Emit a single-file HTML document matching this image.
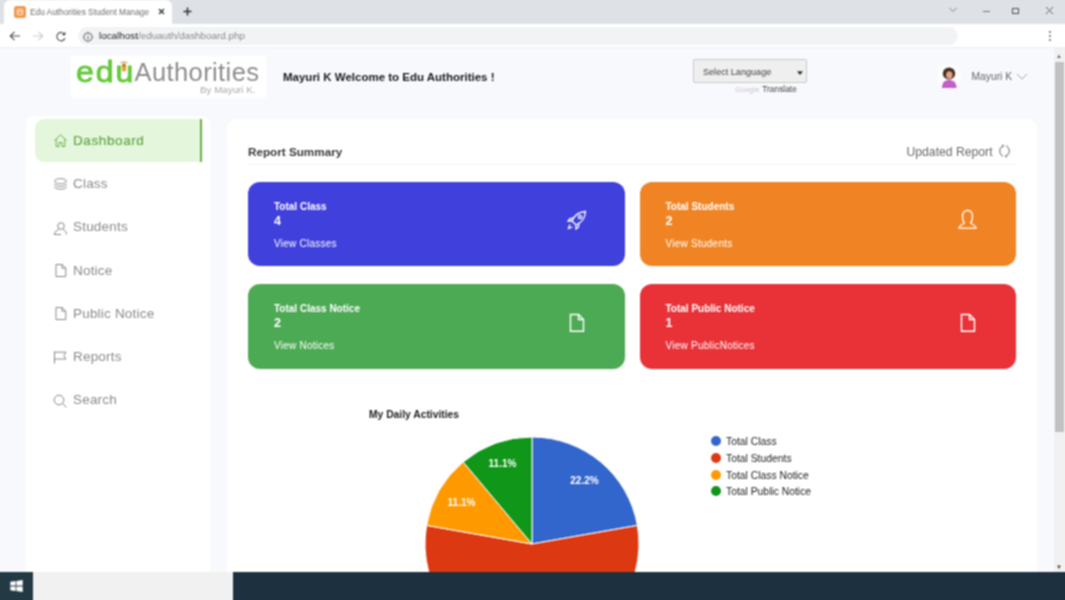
<!DOCTYPE html>
<html><head><meta charset="utf-8">
<style>
*{box-sizing:border-box;margin:0;padding:0}
html,body{width:1065px;height:600px;overflow:hidden;background:#f8f9fd;font-family:"Liberation Sans",sans-serif;}
.abs{position:absolute}
#tabbar{left:-8px;top:-8px;width:1081px;height:32px;background:#dee1e6}
#tab{left:3.500px;top:0;width:168.500px;height:25px;background:#fff;border-radius:6px 6px 0 0}
#toolbar{left:-8px;top:24px;width:1081px;height:24px;background:#fff;border-bottom:1px solid #eeeff2}
#url{left:78px;top:27px;width:880px;height:18px;border-radius:9px;background:#f1f3f4}
.t{position:absolute;white-space:nowrap;line-height:1}
#page{left:-8px;top:48px;width:1062px;height:524px;background:#f8f9fd}
#logo{left:71px;top:56px;width:195px;height:42px;background:#fff}
#side{left:26px;top:116px;width:184px;height:470px;background:#fff;border-radius:8px}
#dash{left:35px;top:118.500px;width:167px;height:43.500px;background:#e4f6db;border-radius:9px 0 0 9px;border-right:2px solid #6ab04c}
.nav{position:absolute;left:73px;font-size:13.5px;color:#8a8a8a;letter-spacing:.2px;white-space:nowrap;line-height:1}
#main{left:226.500px;top:118.500px;width:810.500px;height:470px;background:#fff;border-radius:10px}
.card{position:absolute;width:376.700px;height:84.500px;border-radius:12px;color:#fff}
.card .a{position:absolute;left:26px;top:20px;font-size:10px;letter-spacing:0;font-weight:bold;white-space:nowrap;line-height:1}
.card .b{position:absolute;left:26px;top:33px;font-size:12.500px;font-weight:bold;line-height:1}
.card .c{position:absolute;left:26px;top:56.900px;font-size:10px;letter-spacing:.25px;white-space:nowrap;line-height:1}
#task{left:-8px;top:572px;width:1081px;height:36px;background:#1d3040}
#search{left:33px;top:572px;width:200px;height:36px;background:#f1f1f1}
#start{left:-8px;top:572px;width:41px;height:36px;background:#233a45}
#sb{left:1054px;top:48px;width:19px;height:524px;background:#f1f1f1}
#thumb{left:1054.500px;top:62px;width:9px;height:370px;background:#c1c1c1}
#wrap{position:absolute;left:0;top:0;width:1065px;height:600px;filter:url(#bl)}
</style></head><body>
<svg width="0" height="0" style="position:absolute"><filter id="bl" x="0" y="0" width="100%" height="100%" color-interpolation-filters="sRGB"><feConvolveMatrix order="3" kernelMatrix="3 5 3 5 8 5 3 5 3" divisor="40" edgeMode="duplicate" preserveAlpha="true"/></filter></svg>
<div id="wrap">
<div class="abs" id="tabbar"></div>
<div class="abs" id="tab"></div>
<div class="abs" style="left:14px;top:6px;width:11.500px;height:11.500px;border-radius:2.500px;background:#f29a50"></div>
<div class="abs" style="left:16.500px;top:8.500px;width:6.500px;height:6.500px;border:1px solid #fde6cf;border-radius:1px"></div><div class="abs" style="left:17px;top:11.300px;width:5.500px;height:1px;background:#fde6cf"></div>
<div class="t" style="left:30px;top:8px;font-size:8.300px;color:#6e6e6e">Edu Authorities Student Manage</div>
<svg class="abs" style="left:157.500px;top:8px" width="7" height="7" viewBox="0 0 7 7" fill="none" stroke="#333" stroke-width="1.300"><path d="M1 1 L6 6 M6 1 L1 6"/></svg>
<svg class="abs" style="left:182.500px;top:7px" width="9" height="9" viewBox="0 0 9 9" fill="none" stroke="#333" stroke-width="1.500"><path d="M4.500 .5 V8.500 M.5 4.500 H8.500"/></svg>
<svg class="abs" style="left:948px;top:6px" width="10" height="8" viewBox="0 0 10 8" fill="none" stroke="#8a8a8a" stroke-width="1"><path d="M1.500 2 L5 5.500 L8.500 2"/></svg>
<div class="abs" style="left:983px;top:11px;width:7px;height:1px;background:#777"></div>
<div class="abs" style="left:1012px;top:8px;width:7px;height:6px;border:1px solid #555"></div>
<svg class="abs" style="left:1045px;top:6px" width="9" height="9" viewBox="0 0 9 9" fill="none" stroke="#666" stroke-width="1"><path d="M1 1 L8 8 M8 1 L1 8"/></svg>
<div class="abs" id="toolbar"></div>
<div class="abs" id="url"></div>
<svg class="abs" style="left:9px;top:30px" width="12" height="12" viewBox="0 0 12 12" fill="none" stroke="#505050" stroke-width="1.150"><path d="M11 6 H1.500 M5.500 1.800 L1.300 6 L5.500 10.200"/></svg>
<svg class="abs" style="left:31.500px;top:30px" width="12" height="12" viewBox="0 0 12 12" fill="none" stroke="#cdcdcd" stroke-width="1.150"><path d="M1 6 H10.500 M6.500 1.800 L10.700 6 L6.500 10.200"/></svg>
<svg class="abs" style="left:54.500px;top:30.500px" width="12" height="12" viewBox="0 0 12 12" fill="none" stroke="#505050" stroke-width="1.150"><path d="M9.600 3.300 A4.200 4.200 0 1 0 10 7.200"/><path d="M10.300 .8 V4.300 H6.800 Z" fill="#444" stroke="none"/></svg>
<svg class="abs" style="left:82.500px;top:31.500px" width="10" height="10" viewBox="0 0 10 10" fill="none" stroke="#555" stroke-width="1"><circle cx="5" cy="5" r="4.200"/><path d="M5 4.500 V7.300 M5 2.600 V3.500"/></svg>
<div class="t" style="left:99px;top:31px;font-size:9.900px;color:#222">localhost<span style="color:#888">/eduauth/dashboard.php</span></div>
<svg class="abs" style="left:1048px;top:30px" width="4" height="12" viewBox="0 0 4 12" fill="#666"><circle cx="2" cy="2" r="1"/><circle cx="2" cy="6" r="1"/><circle cx="2" cy="10" r="1"/></svg>

<div class="abs" id="page"></div>
<div class="abs" id="logo"></div>
<div class="t" style="left:76.300px;top:57.300px;font-size:30px;letter-spacing:1.800px;transform:scaleX(1.07);transform-origin:0 0;color:#64c83c;-webkit-text-stroke:.8px #64c83c">edu</div>
<svg class="abs" style="left:117.700px;top:59.500px" width="12" height="13" viewBox="0 0 12 13"><path d="M1 2.500 L6 .8 L11 2.500 L6 4.200 Z" fill="#d9c9a8"/><rect x="3.800" y="3.500" width="4.400" height="8" rx="1.500" fill="#e2a53a"/><rect x="4.600" y="5" width="2.800" height="1.200" fill="#8a5a20"/></svg>
<div class="t" style="left:134.500px;top:60px;font-size:25.500px;color:#8e8e8e;letter-spacing:.4px">Authorities</div>
<div class="t" style="left:200px;top:84.500px;font-size:9.800px;color:#aaa">By Mayuri K.</div>
<div class="t" style="left:283px;top:72px;font-size:11.5px;font-weight:bold;color:#1a1a1a">Mayuri K Welcome to Edu Authorities !</div>

<div class="abs" style="left:692.500px;top:59px;width:114.500px;height:24px;background:#efefef;border:1px solid #cacaca;border-radius:2px"></div>
<div class="t" style="left:703px;top:68px;font-size:9.100px;color:#444">Select Language</div>
<svg class="abs" style="left:796px;top:69.500px" width="8" height="6" viewBox="0 0 8 6"><path d="M1 1.200 H7 L4 5 Z" fill="#333"/></svg>
<div class="t" style="left:735px;top:85px;font-size:8px;color:#c8c4cc"><span style="font-size:7.600px">Google</span> <span style="color:#444;margin-left:.5px;font-size:8.400px">Translate</span></div>

<svg class="abs" style="left:936px;top:63px" width="26" height="28" viewBox="0 0 26 28"><ellipse cx="13" cy="14" rx="11.800" ry="13" fill="#fdfdfe"/><ellipse cx="13" cy="10.500" rx="6.200" ry="6" fill="#4a2e26"/><ellipse cx="13.300" cy="12" rx="3.200" ry="3.800" fill="#e0a488"/><path d="M6 25 C6 19 9 17 13 17 C17 17 20.500 19 20.500 25 Z" fill="#c060c8"/></svg>
<div class="t" style="left:971.500px;top:71.500px;font-size:10.300px;color:#666">Mayuri K</div>
<svg class="abs" style="left:1016px;top:72px" width="12" height="9" viewBox="0 0 12 9" fill="none" stroke="#aaa" stroke-width="1"><path d="M1 2 L6 7 L11 2"/></svg>

<div class="abs" id="side"></div>
<div class="abs" id="dash"></div>
<div class="nav" style="top:134px;color:#5fa843;-webkit-text-stroke:.2px #62aa46;letter-spacing:.6px">Dashboard</div>
<div class="nav" style="top:177px">Class</div>
<div class="nav" style="top:220px">Students</div>
<div class="nav" style="top:263.500px">Notice</div>
<div class="nav" style="top:307px">Public Notice</div>
<div class="nav" style="top:350px">Reports</div>
<div class="nav" style="top:393px">Search</div>

<div class="abs" id="main"></div>
<div class="t" style="left:248px;top:146px;font-size:11.700px;font-weight:bold;color:#3a3a3a">Report Summary</div>
<div class="t" style="left:906.500px;top:146.300px;font-size:12.200px;color:#686868">Updated Report</div>
<div class="abs" style="left:248px;top:164px;width:768px;height:1px;background:#f5f5f8"></div>

<div class="card" style="left:248px;top:181.900px;background:#4040dc"><div class="a">Total Class</div><div class="b">4</div><div class="c">View Classes</div></div>
<div class="card" style="left:639.500px;top:181.900px;background:#f08424"><div class="a">Total Students</div><div class="b">2</div><div class="c">View Students</div></div>
<div class="card" style="left:248px;top:284.400px;background:#4caa54"><div class="a">Total Class Notice</div><div class="b">2</div><div class="c">View Notices</div></div>
<div class="card" style="left:639.500px;top:284.400px;background:#e83238"><div class="a">Total Public Notice</div><div class="b">1</div><div class="c">View PublicNotices</div></div>


<!-- sidebar icons -->
<svg class="abs" style="left:53px;top:133px" width="15" height="15" viewBox="0 0 15 15" fill="none" stroke="#6ab04c" stroke-width="1"><path d="M1.5 7.5 L7.5 1.8 L13.5 7.5 M3.2 6.2 V13.5 H6 V9.5 H9 V13.5 H11.8 V6.2"/></svg>
<svg class="abs" style="left:53px;top:177px" width="15" height="15" viewBox="0 0 15 15" fill="none" stroke="#8a8a8a" stroke-width="1"><ellipse cx="7.5" cy="4.2" rx="5.8" ry="2.6"/><path d="M1.7 7 C1.7 10.2 13.3 10.2 13.3 7 M1.7 9.8 C1.7 13 13.3 13 13.3 9.8"/></svg>
<svg class="abs" style="left:53px;top:221px" width="15" height="15" viewBox="0 0 15 15" fill="none" stroke="#8a8a8a" stroke-width="1"><circle cx="8" cy="5" r="3.3"/><path d="M1.5 13.5 C1.5 10.5 4 9 6 8.6 M10 8.6 C12 9.3 13.5 10.5 13.5 13.5 M1 13.5 H8"/></svg>
<svg class="abs" style="left:55px;top:263px" width="12" height="15" viewBox="0 0 12 15" fill="none" stroke="#8a8a8a" stroke-width="1"><path d="M1 1.5 H7 L10.8 5.2 V13.5 H1 Z M7 1.5 V5.2 H10.8"/></svg>
<svg class="abs" style="left:55px;top:306px" width="12" height="15" viewBox="0 0 12 15" fill="none" stroke="#8a8a8a" stroke-width="1"><path d="M1 1.5 H7 L10.8 5.2 V13.5 H1 Z M7 1.5 V5.2 H10.8"/></svg>
<svg class="abs" style="left:53px;top:350px" width="15" height="15" viewBox="0 0 15 15" fill="none" stroke="#8a8a8a" stroke-width="1"><path d="M1.5 1.5 V13.5 M1.5 2.2 H13 L10.8 5.6 L13 9 H1.5"/></svg>
<svg class="abs" style="left:53px;top:394px" width="15" height="15" viewBox="0 0 15 15" fill="none" stroke="#8a8a8a" stroke-width="1"><circle cx="6" cy="6" r="4.8"/><path d="M9.5 9.5 L13.5 13.5"/></svg>
<!-- card icons -->
<svg class="abs" style="left:567px;top:210px" width="20" height="20" viewBox="0 0 20 20" fill="none" stroke="#fff" stroke-width="1.3"><path d="M7 13 L5 11 C7 6 11 2 18.5 1.5 C18 9 14 13 9 15 Z M7.5 8 L3 8.5 L1 11 L5 11 M12 12.5 L11.5 17 L9 19 L9 15 M3 14.5 L1.5 18.5 L5.5 17"/><circle cx="13" cy="7" r="1.6"/></svg>
<svg class="abs" style="left:958px;top:209px" width="19" height="21" viewBox="0 0 19 21" fill="none" stroke="#fff" stroke-width="1.3"><path d="M6.5 14.5 C5 12.5 4.5 10.5 4.5 7.5 C4.5 3.5 6.5 1.5 9.5 1.5 C12.500 1.5 14.500 3.5 14.500 7.5 C14.500 10.5 14 12.5 12.500 14.500 M6.5 14.500 C3.5 15.500 1.5 16.500 1 19.200 H18 C17.500 16.500 15.500 15.500 12.500 14.500"/></svg>
<svg class="abs" style="left:569px;top:313px" width="16" height="20" viewBox="0 0 16 20" fill="none" stroke="#fff" stroke-width="1.4"><path d="M1.500 1.500 H9.500 L14.500 6.500 V18.300 H1.500 Z M9.500 1.500 V6.500 H14.500"/></svg>
<svg class="abs" style="left:960px;top:313px" width="16" height="20" viewBox="0 0 16 20" fill="none" stroke="#fff" stroke-width="1.4"><path d="M1.500 1.500 H9.500 L14.500 6.500 V18.300 H1.500 Z M9.500 1.500 V6.500 H14.500"/></svg>
<svg class="abs" style="left:998px;top:144px" width="13" height="14" viewBox="0 0 13 14" fill="none" stroke="#666" stroke-width="1"><path d="M5.200 1.800 C2.800 2.600 1.800 4.800 1.800 7 C1.800 9.200 2.800 11.400 5 12.200 M7.800 12.200 C10.200 11.400 11.200 9.200 11.200 7 C11.200 4.800 10.200 2.600 8 1.800"/><path d="M4 .6 L5.800 1.800 L4.600 3.400 M9 13.400 L7.200 12.200 L8.400 10.600" stroke-width=".8"/></svg>
<div class="t" style="left:369px;top:410px;font-size:10.300px;font-weight:bold;color:#222">My Daily Activities</div>
<svg class="abs" style="left:420.900px;top:430.900px" width="230" height="150" viewBox="420 430 230 150">
<path d="M531 543 L531 436 A107 107 0 0 1 636.4 524.4 Z" fill="#3366cc" stroke="#fff" stroke-width="1"/>
<path d="M531 543 L636.4 524.4 A107 107 0 1 1 425.6 524.4 Z" fill="#dc3912" stroke="#fff" stroke-width="1"/>
<path d="M531 543 L425.6 524.4 A107 107 0 0 1 462.2 461 Z" fill="#ff9900" stroke="#fff" stroke-width="1"/>
<path d="M531 543 L462.2 461 A107 107 0 0 1 531 436 Z" fill="#109618" stroke="#fff" stroke-width="1"/>
<text x="583.500" y="482.500" font-size="10" font-weight="bold" fill="#fff" text-anchor="middle" font-family="Liberation Sans, sans-serif">22.2%</text>
<text x="460.500" y="504.500" font-size="10" font-weight="bold" fill="#fff" text-anchor="middle" font-family="Liberation Sans, sans-serif">11.1%</text>
<text x="501.500" y="465.500" font-size="10" font-weight="bold" fill="#fff" text-anchor="middle" font-family="Liberation Sans, sans-serif">11.1%</text>
</svg>
<div class="abs" style="left:711px;top:436.200px;width:10px;height:10px;border-radius:50%;background:#3366cc"></div>
<div class="abs" style="left:711px;top:452.900px;width:10px;height:10px;border-radius:50%;background:#dc3912"></div>
<div class="abs" style="left:711px;top:469.500px;width:10px;height:10px;border-radius:50%;background:#ff9900"></div>
<div class="abs" style="left:711px;top:486.200px;width:10px;height:10px;border-radius:50%;background:#109618"></div>
<div class="t" style="left:726px;top:437.200px;font-size:10.350px;color:#222">Total Class</div>
<div class="t" style="left:726px;top:453.900px;font-size:10.350px;color:#222">Total Students</div>
<div class="t" style="left:726px;top:470.500px;font-size:10.350px;color:#222">Total Class Notice</div>
<div class="t" style="left:726px;top:487.200px;font-size:10.350px;color:#222">Total Public Notice</div>

<div class="abs" id="sb"></div>
<div class="abs" id="thumb"></div>
<div class="t" style="left:1056px;top:53px;font-size:6px;color:#666">▲</div>
<div class="t" style="left:1056px;top:564px;font-size:6px;color:#444">▼</div>
<div class="abs" id="task"></div>
<div class="abs" id="search"></div>
<div class="abs" id="start"></div>
<svg class="abs" style="left:10px;top:579.500px" width="13" height="12" viewBox="0 0 13 12" fill="#fff"><path d="M.3 1.800 L5.600 1 V5.600 H.3 Z M6.400 .9 L12.700 0 V5.600 H6.400 Z M.3 6.400 H5.600 V11 L.3 10.200 Z M6.400 6.400 H12.700 V12 L6.400 11.100 Z"/></svg>
</div>
</body></html>
